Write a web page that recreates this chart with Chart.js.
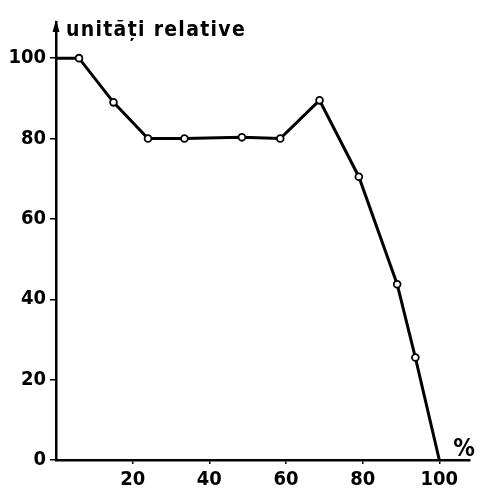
<!DOCTYPE html>
<html>
<head>
<meta charset="utf-8">
<script src="https://cdn.jsdelivr.net/npm/chart.js@4/dist/chart.umd.min.js"></script>
<style>
html,body{margin:0;padding:0;background:#fff;}
#wrap{width:479px;height:488px;position:relative;}
</style>
</head>
<body>
<div id="wrap"><canvas id="c"></canvas></div>
<script>
// Data
const xValues = [0, 6, 15, 24, 33.5, 48.5, 58.5, 68.75, 79, 89, 93.75, 100];
const yValues = [100, 100, 89, 80, 80, 80.3, 80, 89.5, 70.5, 43.75, 25.5, 0];
const xTickValues = [20, 40, 60, 80, 100];
const yTickValues = [0, 20, 40, 60, 80, 100];
const yAxisTitle = 'unități relative';
const xAxisUnit = '%';

const points = xValues.map((x, i) => ({x: x, y: yValues[i]}));
const radii = xValues.map((x, i) => (i === 0 || i === xValues.length - 1) ? 0 : 3.4);

const FONT = '"DejaVu Sans Condensed", "DejaVu Sans", sans-serif';

const decor = {
  id: 'decor',
  afterDraw(chart) {
    const ctx = chart.ctx;
    const a = chart.chartArea;
    ctx.save();
    // arrow on y axis
    ctx.fillStyle = '#000';
    ctx.beginPath();
    ctx.moveTo(a.left, a.top - 2);
    ctx.lineTo(a.left - 3.5, a.top + 10);
    ctx.lineTo(a.left + 3.5, a.top + 10);
    ctx.closePath();
    ctx.fill();
    // axis title
    ctx.font = 'bold 21px ' + FONT;
    try { ctx.letterSpacing = '1.3px'; } catch (e) {}
    ctx.textBaseline = 'alphabetic';
    ctx.textAlign = 'left';
    ctx.fillText(yAxisTitle, 66, 36);
    try { ctx.letterSpacing = '0px'; } catch (e) {}
    // unit
    ctx.font = 'bold 24px ' + FONT;
    ctx.textAlign = 'center';
    ctx.textBaseline = 'middle';
    ctx.fillText(xAxisUnit, 464, 450);
    ctx.restore();
  }
};

new Chart(document.getElementById('c'), {
  type: 'scatter',
  data: {
    datasets: [{
      data: points,
      showLine: true,
      borderColor: '#000',
      borderWidth: 3,
      pointRadius: radii,
      pointBackgroundColor: '#fff',
      pointBorderColor: '#000',
      pointBorderWidth: 1.8,
      tension: 0
    }]
  },
  options: {
    responsive: true,
    maintainAspectRatio: false,
    animation: false,
    layout: {padding: {top: 22, right: 9, left: 0, bottom: 0}},
    plugins: {legend: {display: false}, tooltip: {enabled: false}},
    scales: {
      x: {
        type: 'linear',
        min: 0,
        max: 108,
        afterBuildTicks: s => { s.ticks = xTickValues.map(v => ({value: v})); },
        afterFit: s => { s.height = 28; },
        border: {display: true, color: '#000', width: 2.5},
        grid: {display: true, drawOnChartArea: false, color: '#000', lineWidth: 1.5, tickLength: 4},
        ticks: {color: '#000', font: {family: FONT, size: 20, weight: 'bold'}, padding: 4, maxRotation: 0, autoSkip: false}
      },
      y: {
        type: 'linear',
        min: 0,
        max: 109,
        afterBuildTicks: s => { s.ticks = yTickValues.map(v => ({value: v})); },
        afterFit: s => { s.width = 56; },
        border: {display: true, color: '#000', width: 2.5},
        grid: {display: true, drawOnChartArea: false, color: '#000', lineWidth: 1.5, tickLength: 6},
        ticks: {color: '#000', font: {family: FONT, size: 20, weight: 'bold'}, padding: 4, autoSkip: false}
      }
    }
  },
  plugins: [decor]
});
</script>
</body>
</html>
